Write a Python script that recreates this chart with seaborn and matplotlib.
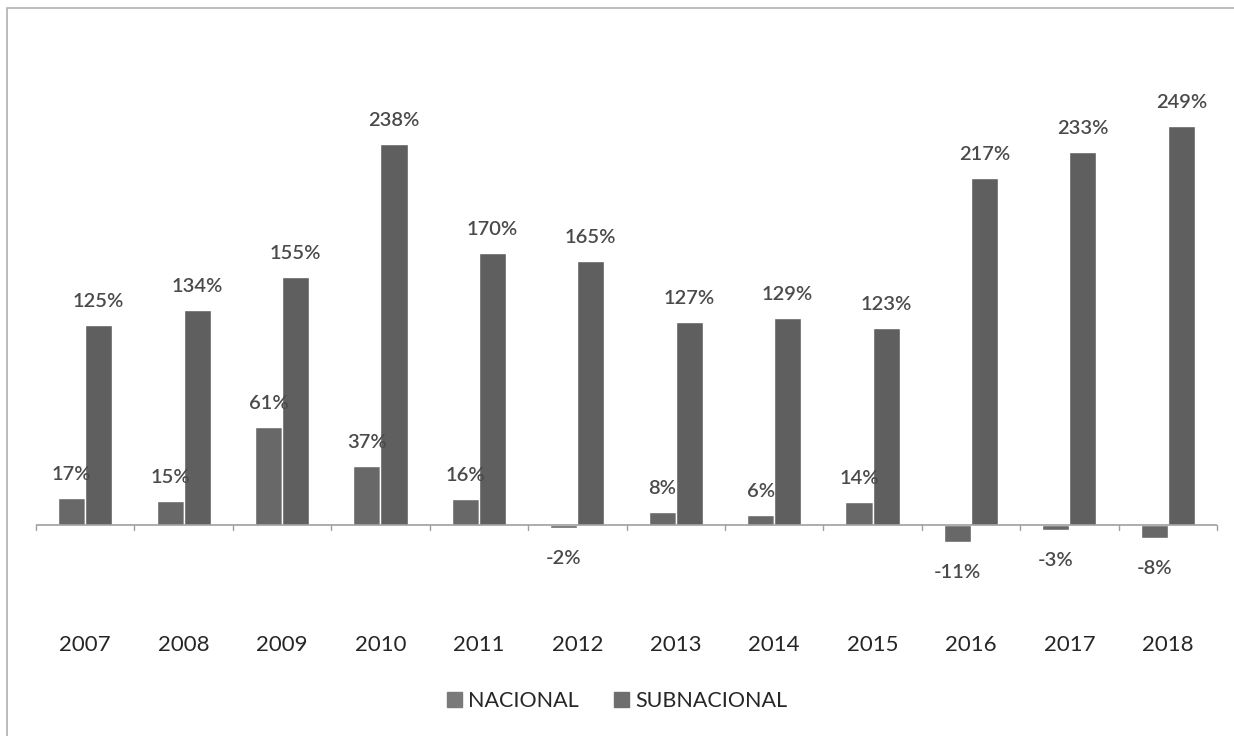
import matplotlib
matplotlib.use("Agg")
import matplotlib.pyplot as plt
import matplotlib.transforms as mtransforms
from matplotlib.patches import Rectangle
import seaborn as sns
import pandas as pd

years = ["2007", "2008", "2009", "2010", "2011", "2012", "2013", "2014", "2015", "2016", "2017", "2018"]
nacional = [17, 15, 61, 37, 16, -2, 8, 6, 14, -11, -3, -8]
subnacional = [125, 134, 155, 238, 170, 165, 127, 129, 123, 217, 233, 249]
series_names = ["NACIONAL", "SUBNACIONAL"]

df = pd.DataFrame({
    "year": years * 2,
    "value": nacional + subnacional,
    "serie": [series_names[0]] * len(years) + [series_names[1]] * len(years),
})

sns.set_theme(style="white")
plt.rcParams["font.family"] = ["Lato", "DejaVu Sans"]
text_col = "#4a4a4a"
colors = {"NACIONAL": "#686868", "SUBNACIONAL": "#5f5f5f"}

fig = plt.figure(figsize=(12.34, 7.36), dpi=100)
ax = fig.add_axes([36 / 1234, 0.2, (1217 - 36) / 1234, 0.739])

sns.barplot(data=df, x="year", y="value", hue="serie", palette=colors,
            width=0.55, ax=ax, legend=False, saturation=1)

ax.set_ylim(-40, 300)
ax.set_xlim(-0.5, len(years) - 0.5)
for s in ax.spines.values():
    s.set_visible(False)
ax.set_yticks([])
ax.set_xticks([])
ax.set_xlabel("")
ax.set_ylabel("")

# zero axis line with boundary ticks
ax.axhline(0, color="#a0a0a0", lw=1.2, zorder=1)
for i in range(len(years) + 1):
    ax.plot([i - 0.5, i - 0.5], [0, -3.5], color="#a0a0a0", lw=1.0, clip_on=False)

# value labels
for container, vals in zip(ax.containers, [nacional, subnacional]):
    for bar, v in zip(container, vals):
        x = bar.get_x() + bar.get_width() / 2
        off = 17 if v >= 0 else -22
        ax.annotate(f"{v}%", (x, v), xytext=(0, off), textcoords="offset points",
                    ha="center", va="center", fontsize=14.5, color=text_col,
                    fontweight="semibold")

# year labels
ytr = mtransforms.blended_transform_factory(ax.transData, fig.transFigure)
for i, y in enumerate(years):
    ax.text(i, (736 - 645) / 736, y, transform=ytr,
            ha="center", va="center", fontsize=16, color="#262626")

# legend
handles = [Rectangle((0, 0), 1, 1, color=c) for c in ["#7a7a7a", "#6e6e6e"]]
fig.legend(handles, series_names, loc="center", bbox_to_anchor=(0.5, (736 - 701) / 736),
           ncol=2, frameon=False, fontsize=15.5, handlelength=0.7, handleheight=0.7,
           handletextpad=0.3, columnspacing=1.6, labelcolor="#262626")

# outer frame
fig.patches.append(Rectangle((7 / 1234, -0.01), 1.0, (736 - 8) / 736 + 0.01, transform=fig.transFigure,
                             fill=False, edgecolor="#b0b0b0", lw=1.2))

fig.savefig("out.png", dpi=100, facecolor="white")
